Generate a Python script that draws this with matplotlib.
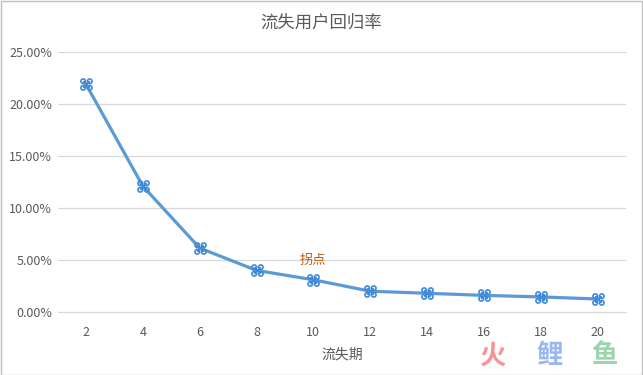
import matplotlib
matplotlib.use("Agg")
import matplotlib.pyplot as plt
from matplotlib.path import Path
from matplotlib.ticker import PercentFormatter
import numpy as np

plt.rcParams['font.family'] = ['Noto Sans CJK SC', 'DejaVu Sans']

periods = [2, 4, 6, 8, 10, 12, 14, 16, 18, 20]
return_rate = [0.219, 0.121, 0.0615, 0.040, 0.031, 0.020, 0.018, 0.016, 0.0145, 0.0125]
title = "流失用户回归率"
xlabel = "流失期"
annot_text = "拐点"
annot_period = 10

# custom marker: X with small circles on corners
c = 0.55
r = 0.38
parts = []
for (dx, dy) in [(-c, -c), (c, -c), (c, c), (-c, c)]:
    parts.append(Path.circle((dx, dy), r))
parts.append(Path([(-c, -c), (c, c)], [Path.MOVETO, Path.LINETO]))
parts.append(Path([(-c, c), (c, -c)], [Path.MOVETO, Path.LINETO]))
marker_path = Path.make_compound_path(*parts)

fig = plt.figure(figsize=(6.43, 3.75), dpi=100)
ax = fig.add_axes([0.0896, 0.168, 0.8840, 0.693])

line_color = '#5b9bd5'
ax.plot(periods, return_rate, color=line_color, lw=2.3, zorder=3)
ax.plot(periods, return_rate, linestyle='none', marker=marker_path, markersize=8,
        markerfacecolor='none', markeredgecolor='#3f8ad8', markeredgewidth=1.2, zorder=4)

ax.set_xlim(1, 21)
ax.set_ylim(0, 0.25)
ax.set_yticks(np.arange(0, 0.2501, 0.05))
ax.yaxis.set_major_formatter(PercentFormatter(1.0, decimals=2))
ax.set_xticks(periods)
ax.grid(axis='y', color='#d9d9d9', lw=0.9)
ax.set_axisbelow(True)
for s in ['top', 'right', 'left']:
    ax.spines[s].set_visible(False)
ax.spines['bottom'].set_color('#d9d9d9')
ax.tick_params(axis='both', length=0, colors='#595959', labelsize=9)
ax.tick_params(axis='x', pad=10)
ax.tick_params(axis='y', pad=4)

ax.set_xlabel(xlabel, color='#595959', fontsize=10, labelpad=6)
fig.text(0.5, 0.94, title, ha='center', va='center', color='#595959', fontsize=12.5)

idx = periods.index(annot_period)
ax.annotate(annot_text, (annot_period, return_rate[idx]), xytext=(0, 14),
            textcoords='offset points', ha='center', va='center',
            color='#c55a11', fontsize=9.5)

# watermark
wm_y = 0.051
fig.text(0.765, wm_y, "火", color='#f58a8a', fontsize=19, fontweight='bold', ha='center', va='center', alpha=0.9)
fig.text(0.855, wm_y, "鲤", color='#8fb0ee', fontsize=19, fontweight='bold', ha='center', va='center', alpha=0.9)
fig.text(0.94, wm_y, "鱼", color='#8fd1a3', fontsize=19, fontweight='bold', ha='center', va='center', alpha=0.9)

# figure border
fig.patches.append(plt.Rectangle((0.001, 0.001), 0.997, 0.997, transform=fig.transFigure,
                                 fill=False, edgecolor='#bfbfbf', lw=1))

fig.savefig("out.png", dpi=100)
